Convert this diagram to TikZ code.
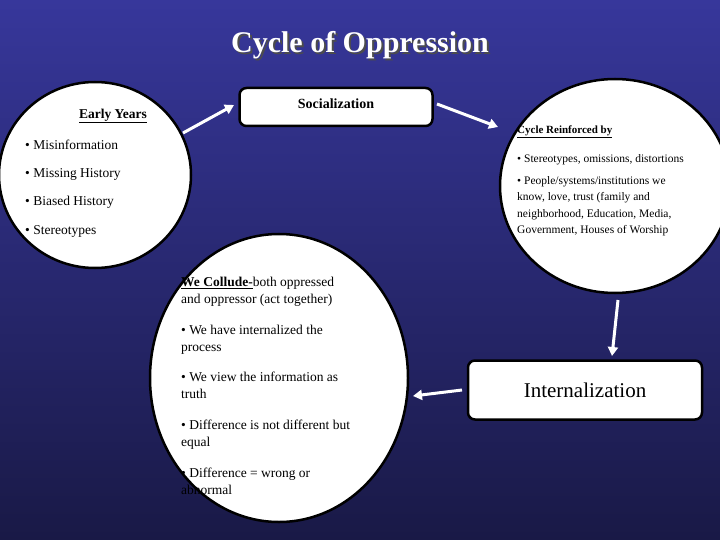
\documentclass[tikz,border=0pt]{standalone}
\usepackage{fontspec}
\setmainfont{Liberation Serif}
\usetikzlibrary{arrows.meta}
\newcommand{\ul}[1]{\underline{#1}}
\begin{document}
\begin{tikzpicture}[x=1pt,y=-1pt,
  bubble/.style={draw=black,line width=2.5pt,fill=white},
  stagebox/.style={draw=black,line width=2.5pt,fill=white,rounded corners=7pt},
  flow/.style={draw=white,line width=3pt,-{Triangle[length=9pt,width=10pt]}},
  txt/.style={anchor=west,inner sep=0pt,align=left}]
\shade[top color={rgb,255:red,55;green,55;blue,155},bottom color={rgb,255:red,25;green,25;blue,70}] (0,0) rectangle (720,540);
\useasboundingbox (0,0) rectangle (720,540);
\node[text=black!70,font=\bfseries\fontsize{30}{36}\selectfont] at (362,47) {Cycle of Oppression};
\node[text=white,font=\bfseries\fontsize{30}{36}\selectfont] (title) at (360,45) {Cycle of Oppression};
% ellipses
\draw[bubble] (95,175) ellipse [x radius=96,y radius=93];
\draw[bubble] (615,186) ellipse [x radius=115,y radius=107];
\draw[bubble] (279,378) ellipse [x radius=129,y radius=144];
% boxes
\node[stagebox,minimum width=193pt,minimum height=38pt,font=\bfseries\fontsize{14}{16}\selectfont] (soc) at (336,107) {\raisebox{6pt}{Socialization}};
\node[stagebox,minimum width=234pt,minimum height=59pt,font=\fontsize{21}{24}\selectfont] (int) at (585,390) {Internalization};
% left text
\begin{scope}[font=\fontsize{13.5}{16}\selectfont]
\node[font=\bfseries\fontsize{13.5}{16}\selectfont,inner sep=0pt] (ey) at (113,116) {\ul{Early Years}};
\node[txt] (l1) at (25,145) {• Misinformation};
\node[txt] (l2) at (25,174) {• Missing History};
\node[txt] (l3) at (25,202) {• Biased History};
\node[txt] (l4) at (25,231) {• Stereotypes};
\end{scope}
% right text
\begin{scope}[font=\fontsize{11.5}{16.5}\selectfont]
\node[txt,font=\bfseries\fontsize{11}{13}\selectfont] (cr) at (517,132) {\ul{Cycle Reinforced by}};
\node[txt] (r1) at (517,160) {• Stereotypes, omissions, distortions};
\node[txt,anchor=north west] (r2) at (517,176) {• People/systems/institutions we\\know, love, trust (family and\\neighborhood, Education, Media,\\Government, Houses of Worship};
\end{scope}
% collude text
\begin{scope}[font=\fontsize{13.5}{16.5}\selectfont]
\node[txt,anchor=north west] (c1) at (181,277) {\textbf{\ul{We Collude-}}both oppressed\\and oppressor (act together)};
\node[txt,anchor=north west] (c2) at (181,325) {• We have internalized the\\process};
\node[txt,anchor=north west] (c3) at (181,372) {• We view the information as\\truth};
\node[txt,anchor=north west] (c4) at (181,420) {• Difference is not different but\\equal};
\node[txt,anchor=north west] (c5) at (181,468) {• Difference = wrong or\\abnormal};
\end{scope}
% arrows
\coordinate (a1s) at (183,133); \coordinate (a1e) at (234,105);
\coordinate (a2s) at (437,104); \coordinate (a2e) at (498,127);
\coordinate (a3s) at (618,300); \coordinate (a3e) at (612,356);
\coordinate (a4s) at (462,390); \coordinate (a4e) at (413,396);
\draw[flow] (a1s) -- (a1e);
\draw[flow] (a2s) -- (a2e);
\draw[flow] (a3s) -- (a3e);
\draw[flow] (a4s) -- (a4e);
\end{tikzpicture}
\end{document}
